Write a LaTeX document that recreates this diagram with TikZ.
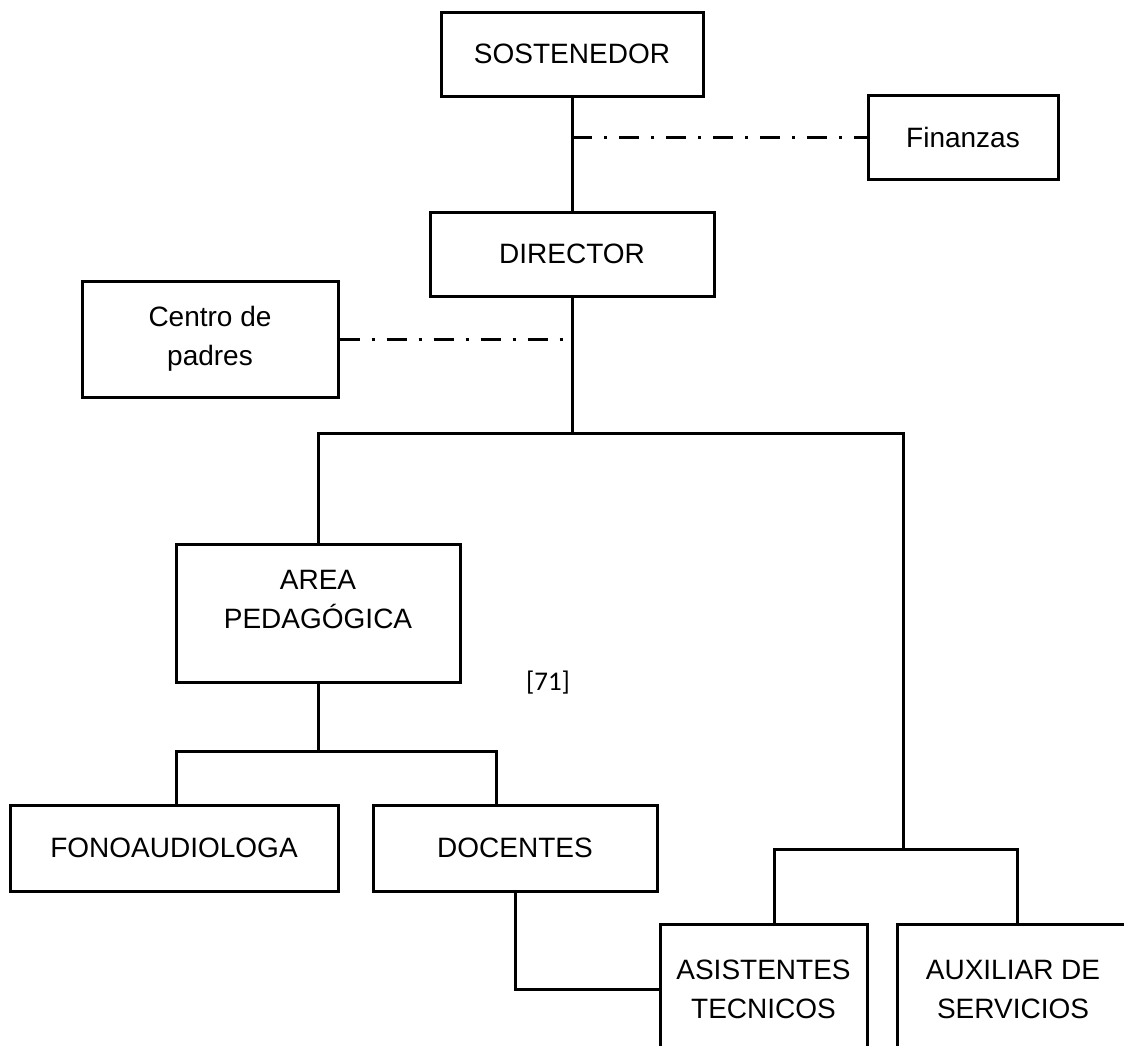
\documentclass[tikz,border=0pt]{standalone}
\usepackage{fontspec}
\setmainfont{Liberation Sans}
\newfontfamily\pagefont{Carlito}

\begin{document}
\begin{tikzpicture}[x=0.5pt, y=-0.5pt, line width=1.5pt,
				font=\fontsize{14}{19.5}\selectfont,
				unitbox/.style={rectangle, draw, inner sep=2pt, align=center},
				dashlink/.style={dash pattern=on 10pt off 6pt on 1.5pt off 6pt},
				pagemark/.style={font=\pagefont\fontsize{13.5}{16}\selectfont}]
				
				\useasboundingbox (0,0) rectangle (1124,1045);
				\clip (0,0) rectangle (1124,1045);
				
				\node (sost) [unitbox, minimum width=131pt, minimum height=42pt] at (572,54) {SOSTENEDOR};
				\node (dir) [unitbox, below of=sost, node distance=100pt, minimum width=142pt, minimum height=42pt] {DIRECTOR};
				\node (fin) [unitbox, minimum width=95pt, minimum height=42pt] at (963,137) {Finanzas};
				\node (cpad) [unitbox, minimum width=128pt, minimum height=58pt] at (210,339) {Centro de\\padres};
				\node (area) [unitbox, text depth=14pt, minimum width=142pt, minimum height=69pt] at (318,613) {AREA\\PEDAGÓGICA};
				\node (fono) [unitbox, minimum width=164pt, minimum height=43pt] at (174,848) {FONOAUDIOLOGA};
				\node (doc) [unitbox, right of=fono, node distance=170.5pt, minimum width=142pt, minimum height=43pt] {DOCENTES};
				\node (asis) [unitbox, minimum width=103.5pt, minimum height=65pt] at (763.5,989) {ASISTENTES\\TECNICOS};
				\node (aux) [unitbox, right of=asis, node distance=124.75pt, minimum width=116pt, minimum height=65pt] {AUXILIAR DE\\SERVICIOS};
				\node (pagenum) [pagemark] at (548,683) {[71]};
				
				\coordinate (split1) at (572,433);
				\coordinate (split2) at (903,849);
				\coordinate (split3) at (318,751);
				
				\draw (sost.south)--(dir.north);
				\draw [dashlink] (sost.south |- fin.west)--(fin.west);
				\draw (dir.south)--(split1);
				\draw [dashlink] (cpad.east)--(dir.south |- cpad.east);
				\draw (area.north) |- (split1) -| (split2);
				\draw ([xshift=5.25pt]asis.north) |- (split2) -| ([xshift=2pt]aux.north);
				\draw (area.south)--(split3);
				\draw ([xshift=1pt]fono.north) |- (split3) -| ([xshift=-9.5pt]doc.north);
				\draw (doc.south) |- (asis.west);
			\end{tikzpicture}
\end{document}
